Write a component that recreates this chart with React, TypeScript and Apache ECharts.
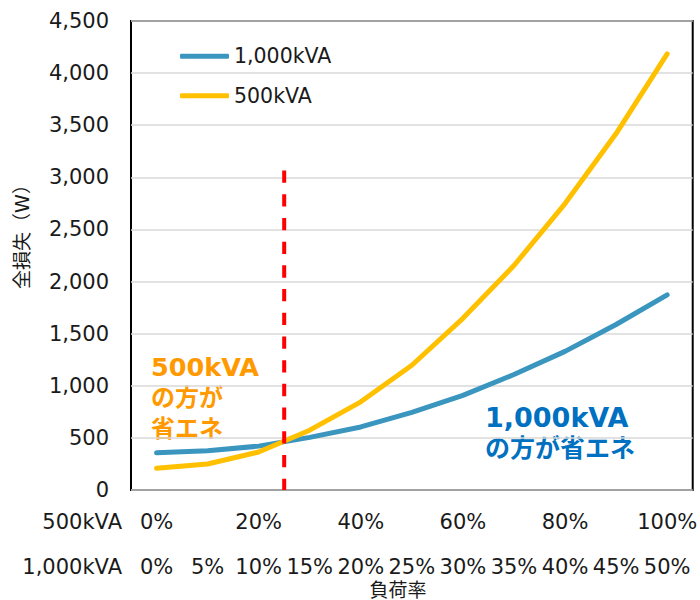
import React, { useEffect, useRef } from "react";
import * as echarts from "echarts";

const loadRate500 = ["0%", "10%", "20%", "30%", "40%", "50%", "60%", "70%", "80%", "90%", "100%"];
const loadRate1000 = ["0%", "5%", "10%", "15%", "20%", "25%", "30%", "35%", "40%", "45%", "50%"];
const loss1000 = [357, 376, 421, 505, 605, 745, 908, 1108, 1330, 1588, 1872];
const loss500 = [208, 249, 365, 574, 846, 1197, 1647, 2154, 2748, 3420, 4184];
const rowNames = ["500kVA", "1,000kVA"];
const crossPos = 2.5;
const crossTop = 3065;
const yTicks = { min: 0, max: 4500, interval: 500 };

const FONT = "'DejaVu Sans', 'Noto Sans CJK JP', sans-serif";
const TXT = "#1a1a1a";

export default function App() {
  const ref = useRef<HTMLDivElement>(null);
  useEffect(() => {
    if (!ref.current) return;
    const chart = echarts.init(ref.current, null, { renderer: "svg" });
    const labelAxisBase = {
      type: "category" as const,
      position: "bottom" as const,
      boundaryGap: true,
      axisLine: { show: false },
      axisTick: { show: false },
      splitLine: { show: false },
    };
    const rowText = (text: string, y: number) => ({
      type: "text",
      x: 122,
      y,
      style: {
        text,
        fontSize: 21,
        fontFamily: FONT,
        fill: TXT,
        textAlign: "right",
        textVerticalAlign: "middle",
      },
    });
    chart.setOption({
      animation: false,
      textStyle: { fontFamily: FONT },
      grid: {
        left: 131,
        right: 3,
        top: 21,
        bottom: 110,
        show: true,
        borderColor: "#000",
        borderWidth: 2,
        backgroundColor: "transparent",
      },
      legend: {
        orient: "vertical",
        left: 180,
        top: 46,
        padding: 0,
        itemGap: 19,
        itemWidth: 49,
        itemHeight: 5,
        icon: "roundRect",
        data: ["1,000kVA", "500kVA"],
        textStyle: { fontSize: 20.5, color: TXT, fontFamily: FONT },
      },
      xAxis: [
        {
          ...labelAxisBase,
          data: loadRate500,
          offset: 0,
          axisLabel: { fontSize: 21, color: TXT, fontFamily: FONT, margin: 21, interval: 1 },
        },
        {
          ...labelAxisBase,
          data: loadRate1000,
          offset: 45,
          axisLabel: { fontSize: 21, color: TXT, fontFamily: FONT, margin: 21, interval: 0 },
        },
        { type: "value", min: -0.5, max: 10.5, show: false },
      ],
      yAxis: {
        type: "value",
        min: yTicks.min,
        max: yTicks.max,
        interval: yTicks.interval,
        axisLine: { show: false },
        axisTick: { show: false },
        axisLabel: {
          fontSize: 21,
          color: TXT,
          fontFamily: FONT,
          margin: 22,
          formatter: (v: number) => v.toLocaleString("en-US"),
        },
        splitLine: { lineStyle: { color: "#d9d9d9", width: 1.5 } },
      },
      series: [
        {
          name: "1,000kVA",
          type: "line",
          xAxisIndex: 0,
          data: loss1000,
          showSymbol: false,
          symbol: "none",
          color: "#3a96bf",
          lineStyle: { width: 5, color: "#3a96bf", cap: "round", join: "round" },
        },
        {
          name: "500kVA",
          type: "line",
          xAxisIndex: 0,
          data: loss500,
          showSymbol: false,
          symbol: "none",
          color: "#ffc000",
          lineStyle: { width: 5, color: "#ffc000", cap: "round", join: "round" },
        },
        {
          name: "boundary",
          type: "line",
          xAxisIndex: 2,
          data: [
            [crossPos, crossTop],
            [crossPos, 0],
          ],
          showSymbol: false,
          symbol: "none",
          z: 5,
          lineStyle: { width: 4, color: "#ff0000", type: [12.3, 11.4] },
        },
      ],
      graphic: [
        rowText(rowNames[0], 522),
        rowText(rowNames[1], 567),
        {
          type: "text",
          x: 22,
          y: 232,
          rotation: Math.PI / 2,
          style: {
            text: "全損失（W）",
            fontSize: 19,
            fontFamily: FONT,
            fill: TXT,
            textAlign: "center",
            textVerticalAlign: "middle",
          },
        },
        {
          type: "text",
          x: 398,
          y: 590,
          style: {
            text: "負荷率",
            fontSize: 19,
            fontFamily: FONT,
            fill: TXT,
            textAlign: "center",
            textVerticalAlign: "middle",
          },
        },
        {
          type: "text",
          x: 151,
          y: 351,
          style: {
            text: "{a|500kVA}\n{b|の方が}\n{b|省エネ}",
            fontFamily: FONT,
            fill: "#ff9900",
            textAlign: "left",
            rich: {
              a: { fontSize: 25.5, fontWeight: "bold", lineHeight: 31, fontFamily: FONT, fill: "#ff9900" },
              b: { fontSize: 24, fontWeight: "bold", lineHeight: 31, fontFamily: FONT, fill: "#ff9900" },
            },
          },
        },
        {
          type: "text",
          x: 485,
          y: 402,
          style: {
            text: "{a|1,000kVA}\n{b|の方が省エネ}",
            fontFamily: FONT,
            fill: "#0070c0",
            textAlign: "left",
            rich: {
              a: { fontSize: 27, fontWeight: "bold", lineHeight: 31, fontFamily: FONT, fill: "#0070c0" },
              b: { fontSize: 25, fontWeight: "bold", lineHeight: 31, fontFamily: FONT, fill: "#0070c0" },
            },
          },
        },
      ],
    });
    return () => chart.dispose();
  }, []);
  return (
    <div
      ref={ref}
      style={{ position: "fixed", left: 0, top: 0, width: 700, height: 600, background: "#fff" }}
    />
  );
}
